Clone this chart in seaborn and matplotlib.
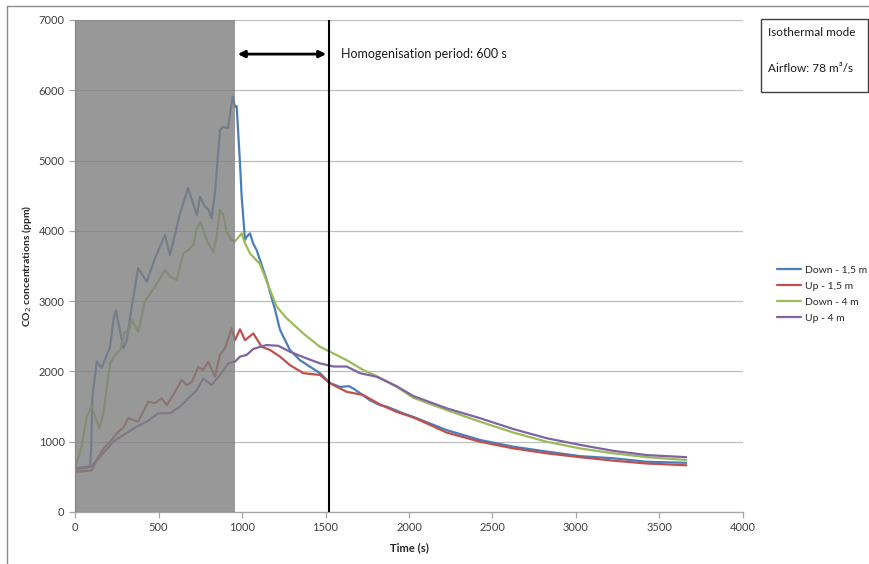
import pandas as pd
import matplotlib.pyplot as plt
import seaborn as sns

# values (time in s, CO2 in ppm)
down15_t = [0, 50, 90, 97, 104, 130, 160, 210, 230, 245, 260, 290, 310, 340, 378, 430, 479, 539, 569, 629,
            677, 729, 749, 778, 800, 818, 838, 868, 886, 916, 944, 958, 968, 988, 998, 1018, 1028, 1048, 1066,
            1088, 1148, 1198, 1228, 1287, 1347, 1467, 1527, 1587, 1640, 1665, 1707, 1766, 1826, 1866, 1964,
            2024, 2226, 2425, 2623, 2824, 3024, 3222, 3423, 3660]
down15_v = [610, 620, 640, 900, 1640, 2140, 2050, 2350, 2730, 2870, 2685, 2330, 2450, 2920, 3470, 3275, 3610,
            3940, 3655, 4250, 4610, 4225, 4485, 4345, 4300, 4180, 4535, 5435, 5480, 5460, 5910, 5765, 5775, 4960,
            4485, 3870, 3915, 3965, 3825, 3725, 3300, 2875, 2590, 2305, 2160, 1975, 1835, 1780, 1790, 1760, 1690,
            1590, 1520, 1500, 1405, 1355, 1165, 1025, 930, 860, 795, 765, 715, 700]

up15_t = [0, 100, 130, 170, 210, 258, 290, 319, 377, 399, 439, 479, 519, 549, 599, 639, 669, 700, 738, 768,
          798, 838, 868, 898, 938, 958, 988, 1018, 1068, 1118, 1168, 1228, 1287, 1367, 1467, 1527, 1627, 1726,
          1826, 1926, 2026, 2126, 2226, 2425, 2625, 2824, 3024, 3224, 3423, 3660]
up15_v = [570, 590, 740, 900, 1000, 1140, 1200, 1335, 1285, 1380, 1570, 1550, 1620, 1520, 1710, 1880, 1805,
          1850, 2065, 2020, 2140, 1925, 2235, 2330, 2615, 2445, 2600, 2445, 2540, 2350, 2305, 2210, 2090, 1975,
          1950, 1830, 1710, 1665, 1530, 1425, 1345, 1240, 1130, 1000, 905, 835, 780, 730, 690, 665]

down4_t = [0, 40, 70, 100, 120, 146, 170, 210, 240, 270, 299, 320, 340, 379, 419, 439, 479, 539, 569, 609,
           649, 679, 709, 729, 752, 778, 798, 828, 848, 868, 888, 908, 938, 958, 998, 1018, 1048, 1108, 1168,
           1208, 1268, 1367, 1467, 1527, 1627, 1726, 1826, 1926, 2026, 2226, 2425, 2625, 2824, 3024, 3224,
           3423, 3660]
down4_v = [620, 930, 1355, 1500, 1355, 1190, 1405, 2115, 2235, 2305, 2565, 2550, 2730, 2565, 3000, 3065, 3205,
           3445, 3350, 3300, 3680, 3725, 3800, 4035, 4130, 3940, 3820, 3700, 3915, 4295, 4225, 3985, 3870, 3850,
           3965, 3820, 3680, 3525, 3160, 2920, 2755, 2540, 2350, 2280, 2160, 2020, 1910, 1780, 1625, 1450, 1285,
           1130, 1000, 905, 835, 780, 740]

up4_t = [0, 100, 150, 229, 289, 369, 429, 499, 569, 629, 679, 729, 768, 818, 868, 918, 958, 988, 1028, 1068,
         1108, 1148, 1217, 1287, 1387, 1467, 1547, 1627, 1707, 1806, 1926, 2026, 2226, 2425, 2625, 2824, 3024,
         3224, 3423, 3660]
up4_v = [620, 655, 785, 1000, 1095, 1215, 1285, 1405, 1405, 1500, 1620, 1735, 1900, 1805, 1950, 2115, 2140,
         2210, 2235, 2320, 2350, 2375, 2365, 2280, 2185, 2115, 2070, 2070, 1975, 1925, 1790, 1650, 1475, 1335,
         1180, 1050, 955, 870, 810, 780]

series = ['Down - 1,5 m', 'Up - 1,5 m', 'Down - 4 m', 'Up - 4 m']
colors = ['#4a7ebb', '#c0504d', '#9bbb59', '#8064a2']

injection_end = 958
homog_end = 1521

frames = []
for name, t, v in zip(series, [down15_t, up15_t, down4_t, up4_t], [down15_v, up15_v, down4_v, up4_v]):
    frames.append(pd.DataFrame({'Time': t, 'CO2': v, 'Series': name}))
df = pd.concat(frames, ignore_index=True)

sns.set_style('white')
plt.rcParams['font.family'] = ['Lato', 'DejaVu Sans']

fig = plt.figure(figsize=(8.7, 5.64), dpi=100)
ax = fig.add_axes([75 / 870, 1 - 512 / 564, 668 / 870, 492 / 564])

sns.lineplot(data=df, x='Time', y='CO2', hue='Series', palette=colors, estimator=None,
             sort=False, linewidth=1.6, ax=ax, legend=True)

# shaded injection period drawn over the curves
ax.axvspan(0, injection_end, color='#7f7f7f', alpha=0.8, lw=0, zorder=5)
ax.axvline(homog_end, color='black', lw=1.5, zorder=6)
ax.annotate('', xy=(injection_end, 6515), xytext=(homog_end, 6515),
            arrowprops=dict(arrowstyle='<|-|>', color='black', lw=2, mutation_scale=10), zorder=7)
ax.text(1590, 6515, 'Homogenisation period: 600 s', fontsize=9, va='center', color='#1a1a1a')

ax.set_xlim(0, 4000)
ax.set_ylim(0, 7000)
ax.set_xticks(range(0, 4001, 500))
ax.set_yticks(range(0, 7001, 1000))
ax.yaxis.grid(True, color='#bfbfbf', lw=0.9)
ax.set_axisbelow(True)
for s in ['top', 'right']:
    ax.spines[s].set_visible(False)
for s in ['left', 'bottom']:
    ax.spines[s].set_color('#a6a6a6')
    ax.spines[s].set_linewidth(0.9)
ax.tick_params(axis='both', labelsize=8, colors='#a6a6a6', labelcolor='#404040', length=4, width=0.9,
               direction='out', left=True, bottom=True)
ax.set_xlabel('Time (s)', fontsize=8, fontweight='bold', labelpad=6)
ax.set_ylabel('CO$_2$ concentrations (ppm)', fontsize=7.5, fontweight='bold')
ax.yaxis.set_label_coords(-0.062, 0.5)

handles, labels = ax.get_legend_handles_labels()
ax.get_legend().remove()
fig.legend(handles, labels, loc='center left', bbox_to_anchor=(768 / 870, 1 - 294 / 564), frameon=False,
           fontsize=7.5, handlelength=2.3, handletextpad=0.4, labelspacing=0.65)

# info box in the corner
box = plt.Rectangle((761 / 870, 1 - 92 / 564), 107 / 870, 73 / 564, transform=fig.transFigure,
                    fill=False, edgecolor='#404040', lw=1)
fig.patches.append(box)
fig.text(768 / 870, 1 - 32 / 564, 'Isothermal mode', fontsize=8.5, va='center', color='#1a1a1a')
fig.text(768 / 870, 1 - 68 / 564, 'Airflow: 78 m³/s', fontsize=8.5, va='center', color='#1a1a1a')

# outer chart frame (left and top edges visible)
fig.add_artist(plt.Line2D([7 / 870, 7 / 870], [0, 1 - 6 / 564], transform=fig.transFigure, color='#8c8c8c', lw=1))
fig.add_artist(plt.Line2D([7 / 870, 1], [1 - 6 / 564, 1 - 6 / 564], transform=fig.transFigure, color='#8c8c8c', lw=1))

fig.savefig('out.png', dpi=100)
